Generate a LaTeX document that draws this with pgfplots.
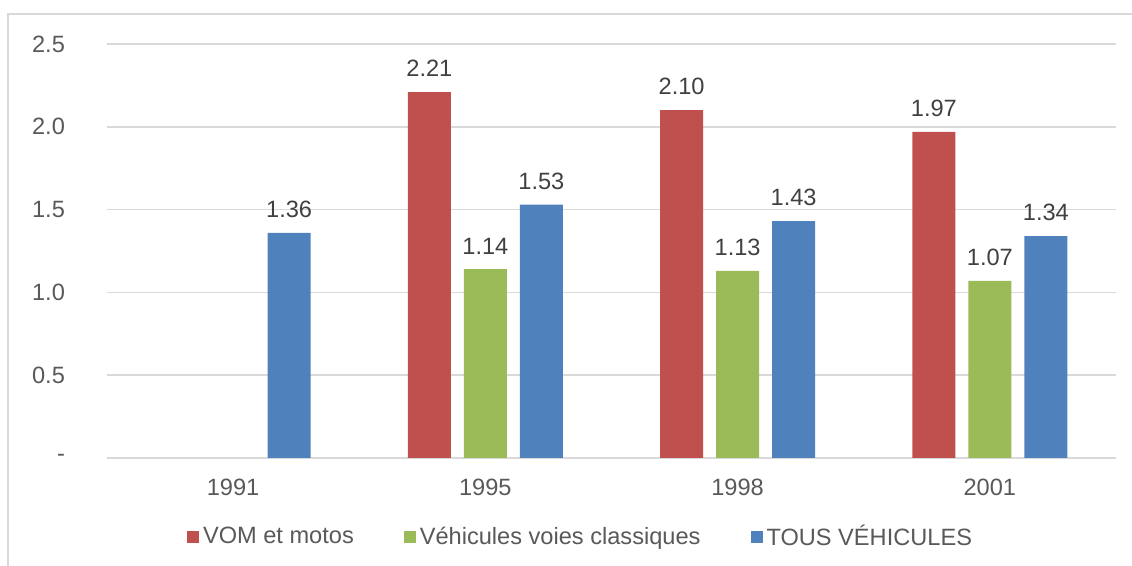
\documentclass[border=0pt]{standalone}
\usepackage{pgfplots}
\pgfplotsset{compat=1.18}
\usepackage{fontspec}
\setmainfont{Liberation Sans}
\definecolor{vomred}{HTML}{C0504D}
\definecolor{vvcgreen}{HTML}{9BBB59}
\definecolor{tousblue}{HTML}{4F81BD}
\definecolor{textgray}{HTML}{595959}
\definecolor{valgray}{HTML}{404040}
\definecolor{gridgray}{HTML}{D9D9D9}
\newcommand{\lblfont}{\fontsize{11.8}{14}\selectfont}

\begin{document}
\begin{tikzpicture}
\useasboundingbox (0,0) rectangle (566pt,283pt);
\draw[color=gridgray, line width=0.75pt] (4pt,0) -- (4pt,276pt) -- (566pt,276pt);
\begin{axis}[
  at={(53.5pt,54pt)}, anchor=south west,
  scale only axis, width=504.5pt, height=207pt,
  xmin=-0.5, xmax=3.5, ymin=0, ymax=2.5,
  ybar=6.5pt, bar width=21.5pt,
  xtick={0,1,2,3}, xticklabels={1991,1995,1998,2001},
  ytick={0,0.5,1,1.5,2,2.5},
  yticklabels={-\hspace{3pt},0.5,1.0,1.5,2.0,2.5},
  major tick length=0pt,
  ymajorgrids, grid style={color=gridgray, line width=0.75pt},
  axis line style={draw=none},
  tick label style={font=\lblfont, text=textgray},
  yticklabel style={xshift=-17.5pt},
  xticklabel style={yshift=-7pt},
  nodes near coords={\pgfmathprintnumber[fixed, fixed zerofill, precision=2, assume math mode=true]{\pgfplotspointmeta}},
  every node near coord/.append style={font=\lblfont, text=valgray, yshift=4pt},
  legend columns=3,
  legend style={draw=none, at={(0.4703,-0.1908)}, anchor=center,
    font=\lblfont, text=textgray,
    /tikz/every even column/.append style={column sep=23pt}},
  legend image code/.code={\fill[#1] (0pt,-3pt) rectangle (6pt,3pt);},
]
\addplot[fill=vomred, draw=none] coordinates {(1,2.21) (2,2.10) (3,1.97)};
\addplot[fill=vvcgreen, draw=none] coordinates {(1,1.14) (2,1.13) (3,1.07)};
\addplot[fill=tousblue, draw=none] coordinates {(0,1.36) (1,1.53) (2,1.43) (3,1.34)};
\legend{VOM et motos, Véhicules voies classiques, TOUS VÉHICULES}
\end{axis}
\end{tikzpicture}
\end{document}
